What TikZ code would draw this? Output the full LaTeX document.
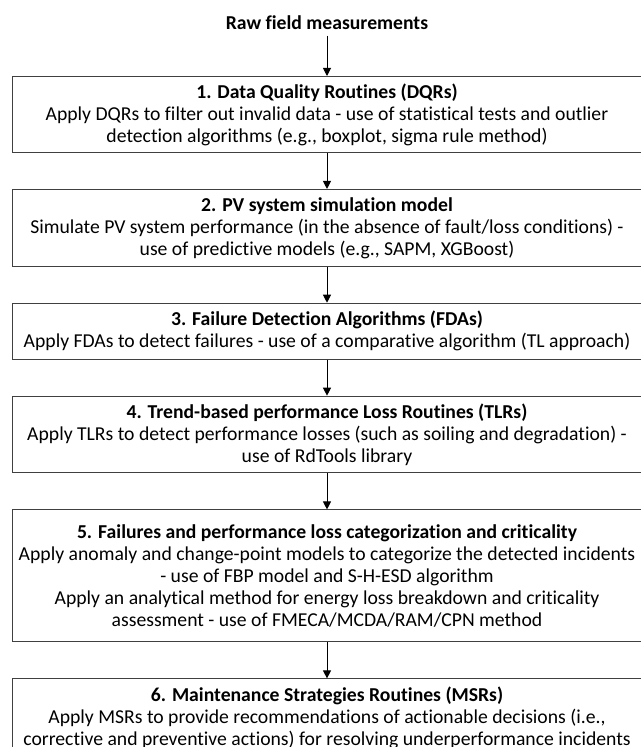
\documentclass[tikz,border=0pt]{standalone}
\usepackage{fontspec}
\setmainfont[Ligatures=NoCommon]{Carlito}
\usetikzlibrary{positioning,arrows.meta}
\tikzset{stagebox/.style={draw=black!75, line width=0.6pt, minimum width=393.75pt,
  align=center, inner sep=1pt, font=\fontsize{12.3}{13.75}\selectfont}}
\tikzset{flow/.style={-{Triangle[width=5pt,length=5pt]}, line width=0.6pt}}

\begin{document}
\begin{tikzpicture}[x=0.625pt,y=-0.625pt, node distance=22.5pt]

\useasboundingbox (0,0) rectangle (640,747);

\node[font=\fontsize{12.3}{13.75}\selectfont\bfseries] (raw) at (327,23) {Raw field measurements};

\node[stagebox, minimum height=47.5pt, anchor=north] (b1) at (327,76)
  {\textbf{1. Data Quality Routines (DQRs)}\\
   Apply DQRs to filter out invalid data - use of statistical tests and outlier\\
   detection algorithms (e.g., boxplot, sigma rule method)};
\node[stagebox, minimum height=48pt, below=of b1] (b2)
  {\textbf{2. PV system simulation model}\\
   Simulate PV system performance (in the absence of fault/loss conditions) -\\
   use of predictive models (e.g., SAPM, XGBoost)};
\node[stagebox, minimum height=35pt, below=of b2] (b3)
  {\textbf{3. Failure Detection Algorithms (FDAs)}\\
   Apply FDAs to detect failures - use of a comparative algorithm (TL approach)};
\node[stagebox, minimum height=48pt, below=of b3] (b4)
  {\textbf{4. Trend-based performance Loss Routines (TLRs)}\\
   Apply TLRs to detect performance losses (such as soiling and degradation) -\\
   use of RdTools library};
\node[stagebox, minimum height=82.5pt, below=of b4] (b5)
  {\textbf{5. Failures and performance loss categorization and criticality}\\
   Apply anomaly and change-point models to categorize the detected incidents\\
   - use of FBP model and S-H-ESD algorithm\\
   Apply an analytical method for energy loss breakdown and criticality\\
   assessment - use of FMECA/MCDA/RAM/CPN method};
\node[stagebox, minimum height=48.75pt, below=of b5] (b6)
  {\textbf{6. Maintenance Strategies Routines (MSRs)}\\
   Apply MSRs to provide recommendations of actionable decisions (i.e.,\\
   corrective and preventive actions) for resolving underperformance incidents};

\draw[flow] (raw) -- (b1);
\foreach \i [evaluate=\i as \j using int(\i+1)] in {1,...,5}{
  \draw[flow] (b\i) -- (b\j);
}

\end{tikzpicture}
\end{document}
